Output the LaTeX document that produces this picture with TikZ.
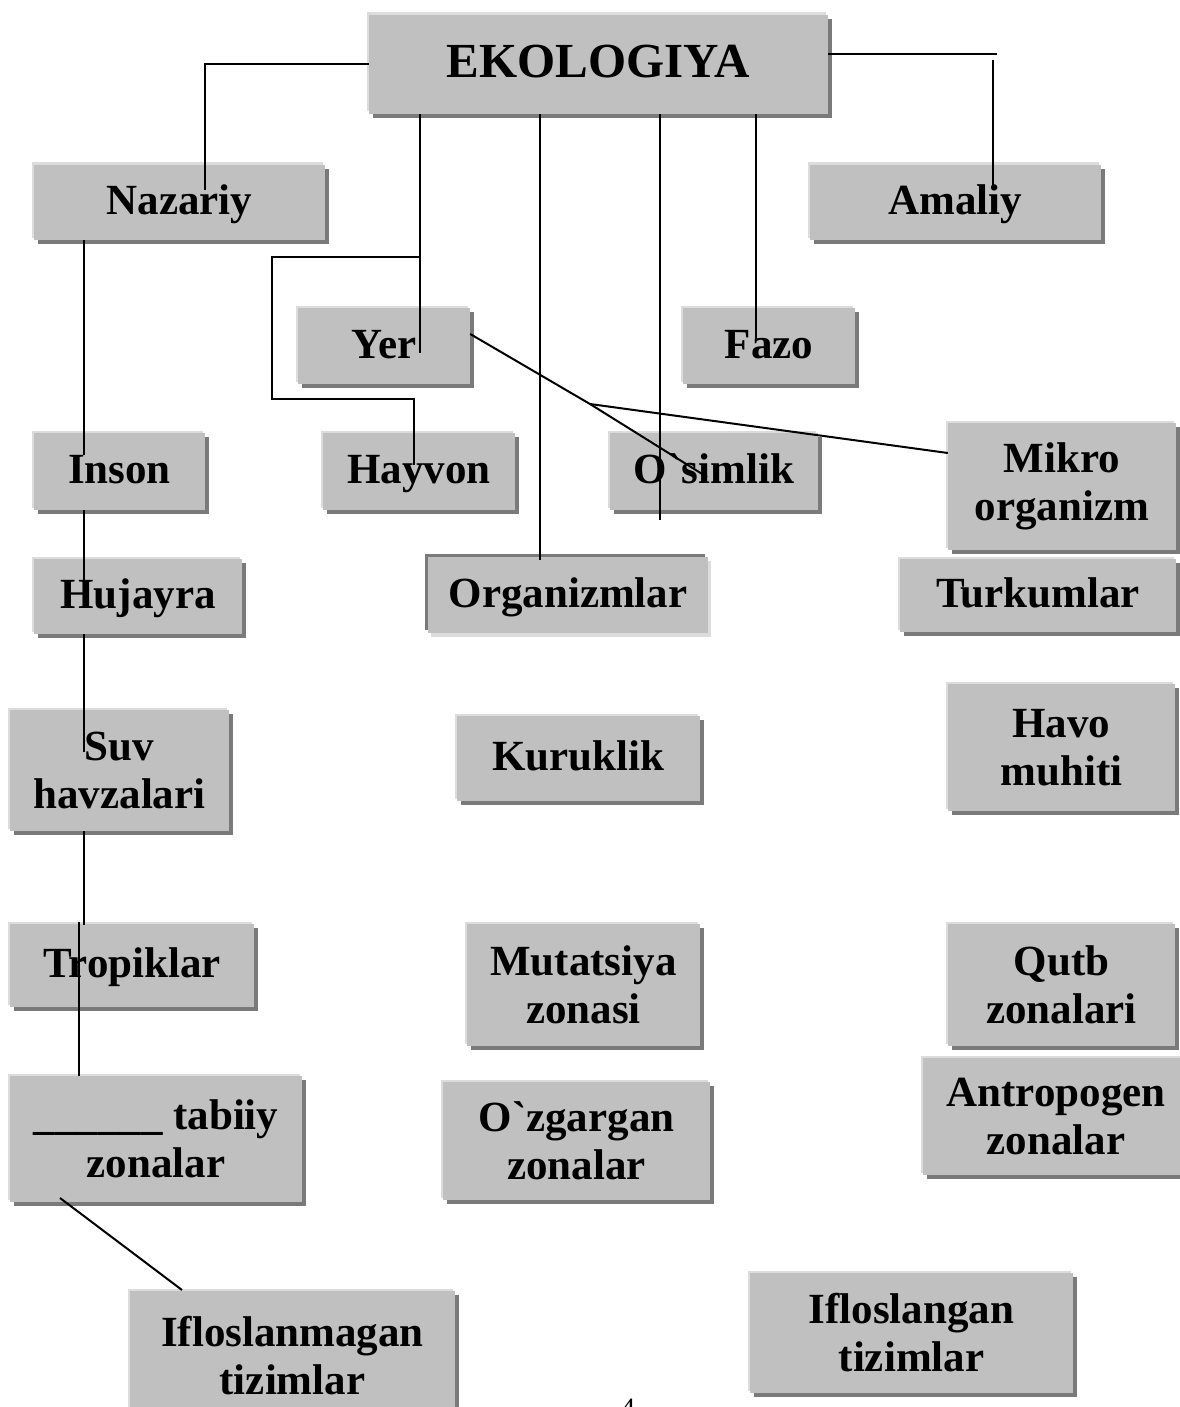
\documentclass[tikz,border=0pt]{standalone}
\usepackage{fontspec}
\newfontfamily\tnr{Liberation Serif}
\usetikzlibrary{shadows}
\definecolor{boxfill}{HTML}{C0C0C0}
\definecolor{shd}{HTML}{7A7A7A}
\definecolor{hl}{HTML}{DCDCDC}
\tikzset{
  gbox/.style={fill=boxfill, inner sep=0pt, align=center,
    font=\tnr\bfseries\fontsize{43}{48}\selectfont,
    general shadow={fill=hl, shadow xshift=-2.5pt, shadow yshift=2.5pt},
    general shadow={fill=shd, shadow xshift=4pt, shadow yshift=-4pt}},
  gboxinv/.style={fill=boxfill, inner sep=0pt, align=center,
    font=\tnr\bfseries\fontsize{43}{48}\selectfont,
    general shadow={fill=hl, shadow xshift=3pt, shadow yshift=-3.5pt},
    general shadow={fill=shd, shadow xshift=-3pt, shadow yshift=3pt}},
  one/.style={text height=29pt, text depth=5pt},
  conn/.style={draw=black, line width=2pt},
  sz/.style 2 args={minimum width=#1pt, minimum height=#2pt}
}
\begin{document}
\begin{tikzpicture}[x=1pt,y=-1pt]
\useasboundingbox (0,0) rectangle (1179,1407);
% boxes
\node[gbox, sz={459}{99}, font=\tnr\bfseries\fontsize{49}{54}\selectfont, text height=33pt, text depth=6pt] (eko) at (598.5,64.5) {EKOLOGIYA};
\node[gbox, one, sz={291}{75}] (nazariy) at (179.5,202.5) {Nazariy};
\node[gbox, one, sz={291}{75}] (amaliy) at (955.5,202.5) {Amaliy};
\node[gbox, one, sz={172}{76}] (yer) at (384,346) {Yer};
\node[gbox, one, sz={172}{76}] (fazo) at (769,346) {Fazo};
\node[gbox, one, sz={171}{77}] (inson) at (119.5,471.5) {Inson};
\node[gbox, one, sz={192}{77}] (hayvon) at (419,471.5) {Hayvon};
\node[gbox, one, sz={208}{77}] (osimlik) at (714,471.5) {O`simlik};
\node[gbox, sz={228}{127}] (mikro) at (1062,486.5) {Mikro\\organizm};
\node[gbox, one, sz={208}{75}] (hujayra) at (138,596.5) {Hujayra};
\node[gboxinv, one, sz={280}{76}] (organizm) at (568,595) {Organizmlar};
\node[gbox, one, sz={276}{73}] (turkum) at (1038,595.5) {Turkumlar};
\node[gbox, sz={219}{121}] (suv) at (119.5,770.5) {Suv\\havzalari};
\node[gbox, one, sz={243}{85}] (kuruk) at (578.5,758.5) {Kuruklik};
\node[gbox, sz={227}{127}] (havo) at (1061.5,747.5) {Havo\\muhiti};
\node[gbox, one, sz={244}{83}] (tropik) at (132,965.5) {Tropiklar};
\node[gbox, sz={233}{122}] (mutats) at (583.5,985) {Mutatsiya\\zonasi};
\node[gbox, sz={227}{122}] (qutb) at (1061.5,985) {Qutb\\zonalari};
\node[gbox, sz={292}{126}] (tabiiy) at (156,1139) {\_\_\_\_\_\_ tabiiy\\zonalar};
\node[gbox, sz={267}{118}] (ozgarg) at (576.5,1141) {O`zgargan\\zonalar};
\node[gbox, sz={266}{117}] (antrop) at (1056,1116.5) {Antropogen\\zonalar};
\node[gbox, sz={325}{129}] (iflosm) at (292.5,1355.5) {Ifloslanmagan\\tizimlar};
\node[gbox, sz={323}{120}] (iflosl) at (911.5,1333) {Ifloslangan\\tizimlar};
\node[anchor=base, font=\tnr\fontsize{28}{30}\selectfont, inner sep=0pt] (pagenum) at (628,1417) {4};
% connector ends
\coordinate (nzTop) at (205,190);
\coordinate (amA) at (997,54);
\coordinate (amB) at (993,60);
\coordinate (amC) at (993,187);
\coordinate (yerEnd) at (420,353);
\coordinate (br1) at (420,257);
\coordinate (hvEnd) at (414,465);
\coordinate (orgEnd) at (540,560);
\coordinate (osEnd) at (660,520);
\coordinate (fzEnd) at (756,340);
\coordinate (split) at (590,404);
\coordinate (osDiag) at (707,477);
% connectors
\draw[conn] (eko.west) -| (nzTop);
\draw[conn] (eko.east |- amA) -- (amA);
\draw[conn] (amB) -- (amC);
\draw[conn] (eko.south -| yerEnd) -- (yerEnd);
\draw[conn] (br1) -- (272,257) -- (272,399) -- (414,399) -- (hvEnd);
\draw[conn] (eko.south -| orgEnd) -- (orgEnd);
\draw[conn] (eko.south -| osEnd) -- (osEnd);
\draw[conn] (eko.south -| fzEnd) -- (fzEnd);
\draw[conn] (nazariy.south -| 84,0) -- (84,455);
\draw[conn] (inson.south -| 84,0) -- (84,585);
\draw[conn] (hujayra.south -| 84,0) -- (84,752);
\draw[conn] (suv.south -| 84,0) -- (84,925);
\draw[conn] (79,922) -- (tabiiy.north -| 79,0);
\draw[conn] (60,1198) -- (182,1290);
\draw[conn] (yer.east |- 0,334) -- (split) -- (osDiag);
\draw[conn] (split) -- (mikro.west |- 0,453);
\end{tikzpicture}
\end{document}
